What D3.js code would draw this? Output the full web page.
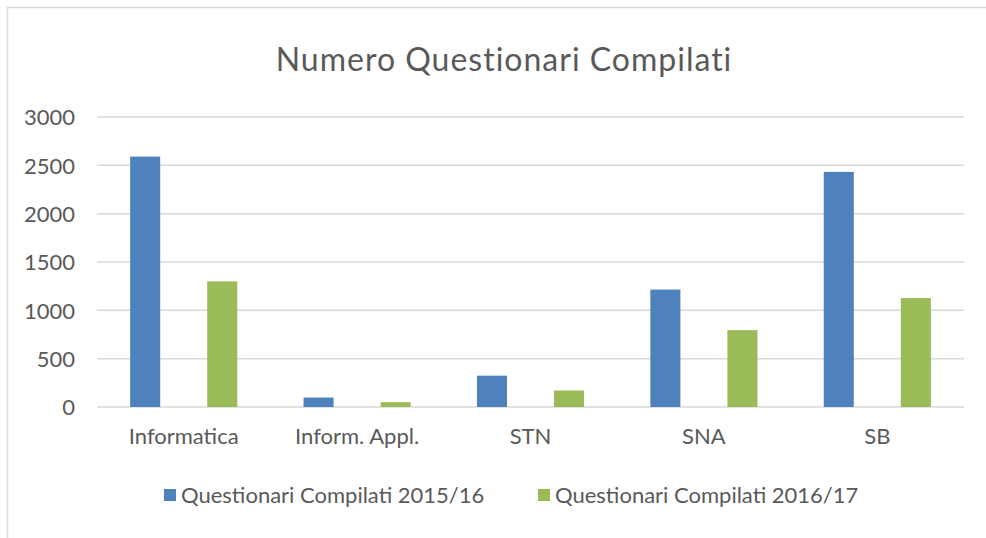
<!DOCTYPE html>
<html>
<head>
<meta charset="utf-8">
<script src="https://cdn.jsdelivr.net/npm/d3@7"></script>
<style>
  html, body { margin: 0; padding: 0; overflow: hidden; background: #fff; }
  svg { display: block; }
  text { font-family: Lato, "Open Sans", sans-serif; fill: #595959; }
</style>
</head>
<body>
<div id="chart"></div>
<script>
let categories = ['Informatica', 'Inform. Appl.', 'STN', 'SNA', 'SB'];
let seriesNames = ['Questionari Compilati 2015/16', 'Questionari Compilati 2016/17'];
let values2015 = [2590, 98, 324, 1215, 2432];
let values2016 = [1300, 50, 171, 795, 1127];
let yTicks = [0, 500, 1000, 1500, 2000, 2500, 3000];
let colors = ['#4F81BD', '#9BBB59'];

let width = 986, height = 538;
let margin = {left: 97, right: 22, top: 117, bottom: 131};

let svg = d3.select('#chart').append('svg')
    .attr('width', width)
    .attr('height', height);

// chart frame: only the left and top edges are in view
svg.append('path')
    .attr('d', 'M7.5,' + height + 'V7.5H' + width)
    .attr('fill', 'none')
    .attr('stroke', '#d9d9d9')
    .attr('stroke-width', 1.5);

svg.append('text')
    .attr('x', 504).attr('y', 71)
    .attr('text-anchor', 'middle')
    .style('font-size', '32px')
    .style('letter-spacing', '1px')
    .text('Numero Questionari Compilati');

let x0 = d3.scaleBand()
    .domain(categories)
    .range([margin.left, width - margin.right])
    .padding(0);

let x1 = d3.scaleBand()
    .domain([0, 1])
    .range([0, x0.bandwidth()])
    .paddingInner(0.61)
    .paddingOuter(0.43);

let y = d3.scaleLinear()
    .domain([0, 3000])
    .range([height - margin.bottom, margin.top]);

let g = svg.append('g');

// gridlines
g.selectAll('.grid')
    .data(yTicks)
    .enter().append('line')
    .attr('class', 'grid')
    .attr('x1', margin.left)
    .attr('x2', width - margin.right)
    .attr('y1', d => y(d))
    .attr('y2', d => y(d))
    .attr('stroke', '#d9d9d9')
    .attr('stroke-width', 1.5);

let yAxis = g.append('g')
    .attr('transform', 'translate(' + (margin.left - 22) + ',0)')
    .call(d3.axisLeft(y).tickValues(yTicks).tickFormat(d3.format('d')).tickSize(0).tickPadding(0));
yAxis.select('.domain').remove();
yAxis.selectAll('text')
    .attr('dy', '0.35em')
    .style('font-size', '22px')
    .style('font-family', 'Lato, sans-serif')
    .attr('fill', '#595959');

let xAxis = g.append('g')
    .attr('transform', 'translate(0,' + (height - margin.bottom) + ')')
    .call(d3.axisBottom(x0).tickSize(0).tickPadding(21));
xAxis.select('.domain').remove();
xAxis.selectAll('text')
    .style('font-size', '22px')
    .style('font-family', 'Lato, sans-serif')
    .attr('fill', '#595959');

let rows = categories.map((c, i) => ({cat: c, vals: [values2015[i], values2016[i]]}));

let groups = g.selectAll('.cat')
    .data(rows)
    .enter().append('g')
    .attr('class', 'cat')
    .attr('transform', d => 'translate(' + x0(d.cat) + ',0)');

groups.selectAll('rect')
    .data(d => d.vals.map((v, s) => ({s: s, v: v})))
    .enter().append('rect')
    .attr('x', d => x1(d.s))
    .attr('y', d => y(d.v))
    .attr('width', x1.bandwidth())
    .attr('height', d => y(0) - y(d.v))
    .attr('fill', d => colors[d.s]);

// legend
let legendX = [164, 538];
let legend = svg.selectAll('.legend')
    .data(seriesNames)
    .enter().append('g')
    .attr('class', 'legend')
    .attr('transform', (d, i) => 'translate(' + legendX[i] + ',489)');

legend.append('rect')
    .attr('width', 12).attr('height', 12)
    .attr('fill', (d, i) => colors[i]);

legend.append('text')
    .attr('x', 17).attr('y', 6)
    .attr('dy', '0.35em')
    .style('font-size', '22px')
    .text(d => d);
</script>
</body>
</html>
